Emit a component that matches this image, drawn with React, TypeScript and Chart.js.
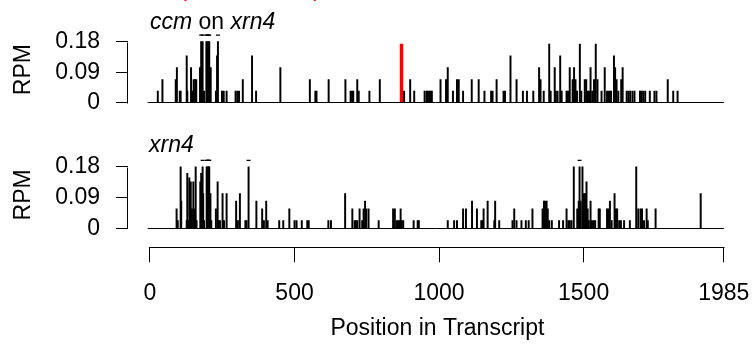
import React, { useEffect, useRef } from 'react';
import { Chart, registerables } from 'chart.js';

Chart.register(...registerables);

const FONT = "'Liberation Sans', Arial, Helvetica, sans-serif";

// ---- axes ----
const xTickValues = [0, 500, 1000, 1500, 1985];
const yTickValues = [0, 0.09, 0.18];
const yCap = 0.18; // bars above this are clipped and flagged with a dash
const offScaleMark = 0.199;

// ---- panel titles ----
const topTitleParts = [
  { text: 'ccm', italic: true },
  { text: ' on ', italic: false },
  { text: 'xrn4', italic: true },
];
const bottomTitle = 'xrn4';
const xTitle = 'Position in Transcript';
const yTitle = 'RPM';

// ---- ccm on xrn4 (top panel) ----
const ccmPositions = [
  27, 43, 89, 93, 103, 106, 127, 129, 142, 146, 151, 156, 160, 173, 177, 182, 187, 195, 198, 202,
  205, 210, 228, 232, 235, 249, 255, 265, 296, 302, 308, 321, 353, 367, 451, 553, 572, 576, 618, 676,
  694, 699, 703, 717, 722, 759, 795, 879, 900, 914, 950, 957, 961, 966, 971, 975, 1005, 1024, 1030, 1048,
  1062, 1068, 1083, 1113, 1137, 1157, 1180, 1185, 1199, 1223, 1228, 1247, 1268, 1290, 1304, 1326, 1346, 1351, 1362, 1381,
  1386, 1400, 1404, 1410, 1419, 1424, 1441, 1446, 1452, 1462, 1467, 1472, 1477, 1487, 1492, 1504, 1509, 1515, 1519, 1524,
  1530, 1536, 1542, 1548, 1562, 1573, 1581, 1586, 1591, 1595, 1605, 1609, 1614, 1620, 1630, 1635, 1649, 1655, 1661, 1669,
  1676, 1695, 1700, 1706, 1713, 1729, 1745, 1752, 1791, 1810, 1825,
];
const ccmRpm = [
  0.035, 0.069, 0.069, 0.104, 0.035, 0.035, 0.138, 0.035, 0.104, 0.035, 0.069, 0.069, 0.069, 0.104, 0.21, 0.21, 0.035, 0.21, 0.21, 0.21,
  0.21, 0.104, 0.035, 0.138, 0.21, 0.035, 0.035, 0.035, 0.035, 0.035, 0.035, 0.069, 0.138, 0.035, 0.104, 0.069, 0.035, 0.035, 0.069, 0.069,
  0.035, 0.035, 0.035, 0.069, 0.035, 0.035, 0.069, 0.035, 0.069, 0.035, 0.035, 0.035, 0.035, 0.035, 0.035, 0.035, 0.069, 0.069, 0.104, 0.035,
  0.069, 0.069, 0.035, 0.069, 0.069, 0.035, 0.035, 0.035, 0.069, 0.035, 0.035, 0.138, 0.069, 0.035, 0.035, 0.035, 0.104, 0.069, 0.035, 0.173,
  0.035, 0.104, 0.035, 0.035, 0.138, 0.035, 0.035, 0.035, 0.104, 0.069, 0.104, 0.069, 0.035, 0.173, 0.035, 0.069, 0.069, 0.035, 0.035, 0.104,
  0.035, 0.069, 0.173, 0.069, 0.035, 0.104, 0.035, 0.035, 0.035, 0.035, 0.138, 0.104, 0.069, 0.035, 0.069, 0.104, 0.035, 0.035, 0.035, 0.035,
  0.035, 0.035, 0.035, 0.035, 0.035, 0.035, 0.035, 0.035, 0.069, 0.035, 0.035,
];
const ccmHighlightPositions = [870];
const ccmHighlightRpm = [0.173];

// ---- xrn4 (bottom panel) ----
const xrn4Positions = [
  92, 96, 106, 108, 127, 129, 134, 136, 141, 145, 150, 153, 158, 161, 174, 177, 182, 184, 187, 196,
  200, 203, 205, 209, 212, 228, 234, 238, 242, 251, 256, 265, 298, 304, 311, 330, 334, 341, 368, 388,
  394, 402, 407, 447, 461, 482, 500, 507, 525, 544, 549, 617, 626, 675, 700, 708, 712, 717, 725, 734,
  739, 744, 748, 756, 791, 841, 847, 853, 858, 862, 867, 871, 876, 912, 926, 930, 1030, 1052, 1062, 1083,
  1093, 1114, 1131, 1146, 1151, 1154, 1168, 1191, 1194, 1208, 1254, 1260, 1268, 1285, 1300, 1310, 1323, 1358, 1363, 1367,
  1372, 1376, 1381, 1390, 1415, 1429, 1441, 1447, 1452, 1458, 1466, 1478, 1483, 1486, 1490, 1496, 1501, 1505, 1510, 1514,
  1518, 1524, 1529, 1535, 1540, 1552, 1556, 1581, 1586, 1591, 1597, 1607, 1612, 1616, 1623, 1629, 1640, 1660, 1682, 1689,
  1697, 1702, 1709, 1718, 1722, 1749, 1905,
];
const xrn4Rpm = [
  0.057, 0.023, 0.18, 0.08, 0.023, 0.161, 0.023, 0.148, 0.136, 0.057, 0.136, 0.057, 0.18, 0.023, 0.136, 0.161, 0.22, 0.102, 0.023, 0.22,
  0.22, 0.22, 0.22, 0.102, 0.023, 0.057, 0.136, 0.023, 0.023, 0.102, 0.023, 0.102, 0.08, 0.023, 0.102, 0.023, 0.023, 0.22, 0.08, 0.057,
  0.023, 0.08, 0.023, 0.023, 0.023, 0.057, 0.023, 0.023, 0.023, 0.023, 0.023, 0.023, 0.023, 0.102, 0.057, 0.023, 0.023, 0.023, 0.057, 0.023,
  0.057, 0.08, 0.057, 0.057, 0.023, 0.057, 0.057, 0.023, 0.023, 0.023, 0.057, 0.023, 0.023, 0.023, 0.023, 0.023, 0.023, 0.023, 0.023, 0.057,
  0.057, 0.08, 0.057, 0.023, 0.023, 0.057, 0.08, 0.023, 0.08, 0.023, 0.023, 0.057, 0.023, 0.023, 0.023, 0.023, 0.057, 0.057, 0.08, 0.08,
  0.08, 0.057, 0.023, 0.023, 0.023, 0.023, 0.057, 0.023, 0.023, 0.023, 0.18, 0.057, 0.08, 0.22, 0.08, 0.18, 0.102, 0.102, 0.136, 0.057,
  0.023, 0.08, 0.023, 0.023, 0.023, 0.057, 0.057, 0.057, 0.057, 0.08, 0.023, 0.102, 0.057, 0.057, 0.023, 0.023, 0.023, 0.023, 0.18, 0.057,
  0.057, 0.057, 0.023, 0.057, 0.023, 0.057, 0.102,
];

const barPoints = (pos: number[], vals: number[]) =>
  pos.map((x, i) => ({ x, y: Math.min(vals[i], yCap) }));
const offScalePoints = (pos: number[], vals: number[]) =>
  pos.filter((_, i) => vals[i] > yCap).map((x) => ({ x, y: offScaleMark }));

const font = (size: number, style = 'normal') => `${style} ${size}px ${FONT}`;

const decorPlugin = {
  id: 'decor',
  afterDraw(chart: any) {
    const { ctx, scales } = chart;
    const x = scales.x;
    const panels = [scales.yTop, scales.yBot];
    ctx.save();
    ctx.strokeStyle = '#000';
    ctx.lineWidth = 1;
    for (const y of panels) {
      // baseline at zero
      const py = Math.floor(y.getPixelForValue(0)) + 0.5;
      ctx.beginPath();
      ctx.moveTo(x.getPixelForValue(-8), py);
      ctx.lineTo(x.getPixelForValue(1985), py);
      ctx.stroke();
      // y axis line from 0 to 0.18
      const ax = Math.round(y.right) - 0.5;
      ctx.beginPath();
      ctx.moveTo(ax, Math.round(y.getPixelForValue(0)) + 0.5);
      ctx.lineTo(ax, Math.round(y.getPixelForValue(0.18)) + 0.5);
      ctx.stroke();
    }
    // x axis line from 0 to 1985
    const xy = Math.floor(x.top) + 0.5;
    ctx.beginPath();
    ctx.moveTo(Math.round(x.getPixelForValue(0)) - 0.5, xy);
    ctx.lineTo(Math.round(x.getPixelForValue(1985)) + 0.5, xy);
    ctx.stroke();

    // panel titles
    ctx.fillStyle = '#000';
    ctx.textBaseline = 'alphabetic';
    ctx.textAlign = 'left';
    let tx = x.getPixelForValue(0);
    for (const part of topTitleParts) {
      ctx.font = font(23, part.italic ? 'italic' : 'normal');
      ctx.fillText(part.text, tx, 29);
      tx += ctx.measureText(part.text).width;
    }
    ctx.font = font(23, 'italic');
    ctx.fillText(bottomTitle, x.getPixelForValue(0) - 1, 152);

    // y titles
    ctx.font = font(23);
    ctx.textAlign = 'center';
    for (const y of panels) {
      const cy = y.getPixelForValue(0.098);
      ctx.save();
      ctx.translate(30, cy);
      ctx.rotate(-Math.PI / 2);
      ctx.fillText(yTitle, 0, 0);
      ctx.restore();
    }

    // clipped red heading above the figure
    ctx.fillStyle = '#ff0000';
    ctx.textAlign = 'center';
    ctx.font = font(23);
    ctx.fillText('(', 183, -4);
    ctx.fillText(')', 317, -4);
    ctx.restore();
  },
};

function yScale(weight: number, min: number, stackWeight: number) {
  return {
    type: 'linear',
    position: 'left',
    stack: 'panels',
    stackWeight,
    weight,
    min,
    max: 0.205,
    afterBuildTicks: (s: any) => {
      s.ticks = yTickValues.map((v) => ({ value: v }));
    },
    afterFit: (s: any) => {
      s.width = 128;
      s.paddingTop = 0;
      s.paddingBottom = 0;
    },
    ticks: {
      color: '#000',
      font: { family: FONT, size: 23 },
      padding: 16,
      callback: (v: number) => String(v),
    },
    grid: { drawOnChartArea: false, drawTicks: true, tickLength: 12, color: '#000', lineWidth: 1 },
    border: { display: false },
  };
}

export default function App() {
  const ref = useRef<HTMLCanvasElement | null>(null);
  useEffect(() => {
    if (!ref.current) return;
    const chart = new Chart(ref.current, {
      type: 'bar',
      data: {
        datasets: [
          {
            type: 'bar',
            data: barPoints(ccmPositions, ccmRpm),
            yAxisID: 'yTop',
            backgroundColor: '#000',
            borderWidth: 0,
            barThickness: 1.3,
            grouped: false,
          },
          {
            type: 'bar',
            data: barPoints(ccmHighlightPositions, ccmHighlightRpm),
            yAxisID: 'yTop',
            backgroundColor: '#ff0000',
            borderWidth: 0,
            barThickness: 2.8,
            grouped: false,
          },
          {
            type: 'scatter',
            data: offScalePoints(ccmPositions, ccmRpm),
            yAxisID: 'yTop',
            pointStyle: 'line',
            pointRadius: 2,
            borderColor: '#000',
            borderWidth: 1.2,
            showLine: false,
          },
          {
            type: 'bar',
            data: barPoints(xrn4Positions, xrn4Rpm),
            yAxisID: 'yBot',
            backgroundColor: '#000',
            borderWidth: 0,
            barThickness: 1.3,
            grouped: false,
          },
          {
            type: 'scatter',
            data: offScalePoints(xrn4Positions, xrn4Rpm),
            yAxisID: 'yBot',
            pointStyle: 'line',
            pointRadius: 2,
            borderColor: '#000',
            borderWidth: 1.2,
            showLine: false,
          },
        ] as any,
      },
      options: {
        animation: false,
        responsive: true,
        maintainAspectRatio: false,
        events: [],
        layout: { padding: { top: 33.1, right: 5, left: 0, bottom: 0 } },
        plugins: { legend: { display: false }, tooltip: { enabled: false } },
        scales: {
          x: {
            type: 'linear',
            min: -76.1,
            max: 2064.5,
            offset: false,
            afterBuildTicks: (s: any) => {
              s.ticks = xTickValues.map((v) => ({ value: v }));
            },
            afterFit: (s: any) => {
              s.height = 96.7;
              s.paddingLeft = 0;
              s.paddingRight = 0;
            },
            ticks: {
              autoSkip: false,
              maxRotation: 0,
              color: '#000',
              font: { family: FONT, size: 23 },
              padding: 18,
              callback: (v: number) => String(v),
            },
            grid: { drawOnChartArea: false, drawTicks: true, tickLength: 15, color: '#000', offset: false },
            border: { display: false },
            title: {
              display: true,
              text: xTitle,
              color: '#000',
              font: { family: FONT, size: 23 },
              padding: { top: 0, bottom: 2 },
            },
          },
          yTop: yScale(2, -0.1625, 0.3675),
          yBot: yScale(1, -0.0557, 0.2607),
        } as any,
      },
      plugins: [decorPlugin],
    });
    return () => chart.destroy();
  }, []);

  return (
    <div style={{ position: 'absolute', left: 0, top: 0, width: 752, height: 344, background: '#fff' }}>
      <canvas ref={ref} />
    </div>
  );
}
